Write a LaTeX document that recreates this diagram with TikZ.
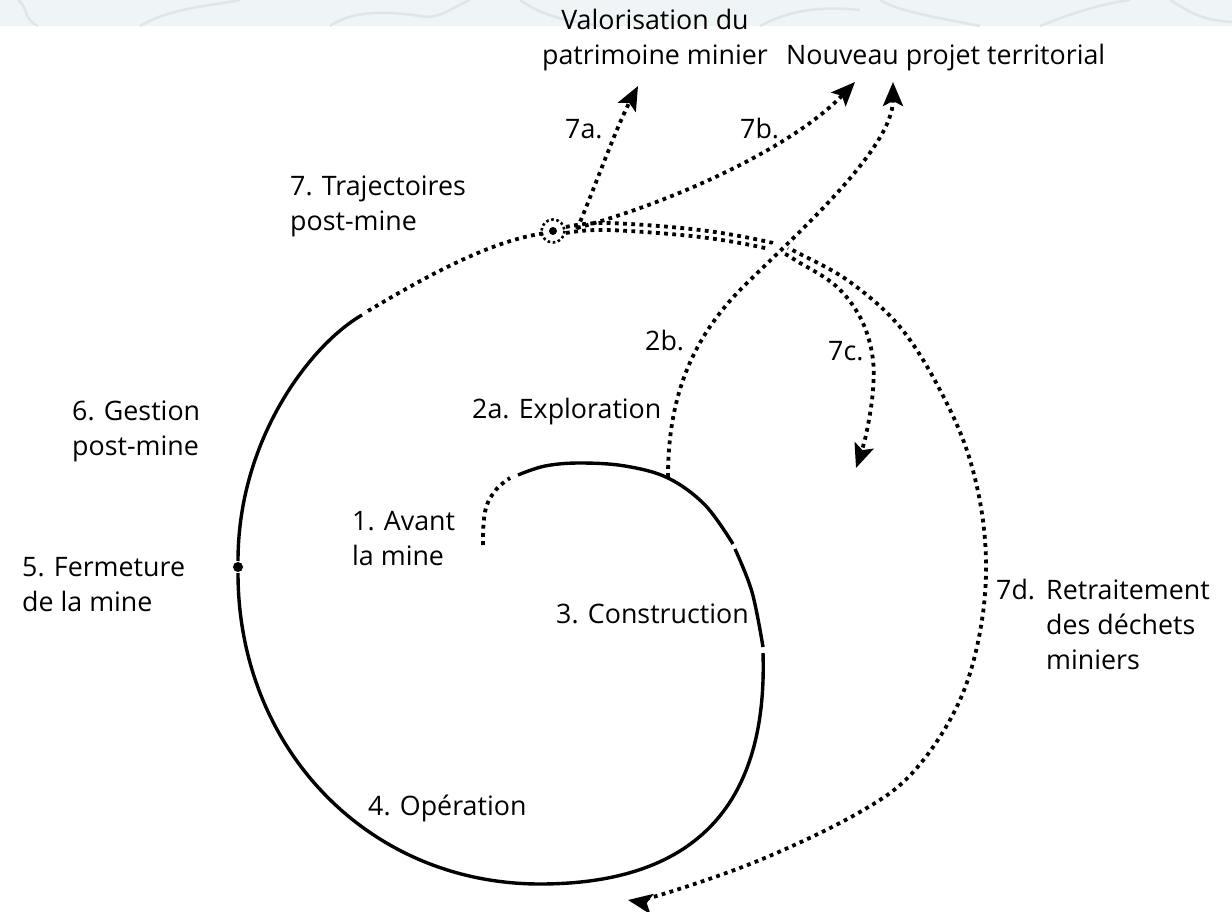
\documentclass[tikz,border=0pt]{standalone}
\usepackage{fontspec}
\setmainfont{Open Sans}
\usetikzlibrary{arrows.meta, positioning, calc}
\definecolor{BandBg}{HTML}{EFF4F6}
\definecolor{BandLine}{HTML}{DDE7EB}

\begin{document}
\begin{tikzpicture}[
  x=1pt, y=-1pt,
  phase/.style={line width=3.4pt},
  future/.style={line width=3.8pt, dash pattern=on 3.8pt off 4.4pt},
  arr/.style={future, -{Stealth[length=24pt, width=20pt, inset=5pt]}},
  lbl/.style={font=\fontsize{26.8}{35}\selectfont, inner sep=0pt, align=left,
              anchor=base west},
  hub/.style={circle, fill=black, inner sep=0pt, minimum size=8pt},
]
\useasboundingbox (0,0) rectangle (1232,912);

% faint band at the top
\fill[BandBg] (0,0) rectangle (1232,26);
\begin{scope}[BandLine, line width=2.5pt]
  \draw (18,0) .. controls (30,10) and (22,18) .. (38,26);
  \draw (140,26) .. controls (170,8) and (210,6) .. (240,0);
  \draw (330,26) .. controls (350,12) and (380,10) .. (420,16) .. controls (440,20) and (450,8) .. (470,0);
  \draw (520,0) .. controls (540,14) and (560,20) .. (600,26);
  \draw (760,26) .. controls (790,10) and (820,6) .. (860,10);
  \draw (880,0) .. controls (900,12) and (940,18) .. (980,26);
  \draw (1040,26) .. controls (1070,14) and (1100,4) .. (1130,0);
  \draw (1170,0) .. controls (1190,12) and (1200,20) .. (1232,22);
\end{scope}

% spiral
\draw[future] plot[smooth, tension=0.7] coordinates
  {(483,545) (485,512) (495,491) (510,478)};
\draw[phase] plot[smooth, tension=0.6] coordinates
  {(518,475) (545,466) (580,463) (625,466) (668,478) (705,505) (733,544)};
\draw[phase] plot[smooth, tension=0.6] coordinates
  {(735,549) (752,592) (763,647)};
\draw[phase] (763,653) .. controls (768,810) and (690,884) .. (540,884)
  .. controls (368,884) and (238,748) .. (238,573);
\node[hub, minimum size=10pt] (close) at (238,567) {};
\draw[phase] (238,561) .. controls (238,440) and (310,345) .. (362,315);
\draw[future] (368,311) .. controls (420,280) and (490,240) .. (546,233);

% post-mine hub
\node[hub] (hub) at (553,231) {};
\draw[line width=2.6pt, dash pattern=on 2.6pt off 2.6pt] (hub) circle (11.5);
\coordinate (start2b) at (668,477);
\coordinate (bend2b) at (743,287);

% trajectories
\draw[arr] plot[smooth, tension=0.6] coordinates
  {(566,233) (607,230) (700,237) (773,250) (800,263) (836,286) (860,317)
   (872,353) (873,390) (866,435) (856,468)};
\draw[arr] plot[smooth, tension=0.6] coordinates
  {(566,227) (607,223) (700,230) (773,243) (800,254) (850,282) (900,327)
   (940,390) (970,460) (985,540) (982,620) (960,700) (915,770) (860,812)
   (760,860) (660,895) (628,900)};
\draw[white, line width=14pt] (758,270) -- (796,229);
\draw[arr] (start2b) .. controls (668,400) and (690,340) .. (bend2b)
  .. controls (790,240) and (893,150) .. (893,82);
\draw[arr] (577,229) .. controls (592,195) and (615,130) .. (638,86);
\draw[arr] (577,228) .. controls (680,200) and (795,145) .. (855,82);

% labels
\node[lbl, align=center, anchor=base] (valo) at (655,65)
  {Valorisation du\\patrimoine minier};
\node[lbl] (nouveau) at (786,65) {Nouveau projet territorial};
\node[lbl] (l7a) at (565,139) {7a.};
\node[lbl] (l7b) at (740,139) {7b.};
\node[lbl] (l7) at (290,231) {7. Trajectoires\\post-mine};
\node[lbl] (l6) at (72,455) {6. Gestion\\post-mine};
\node[lbl] (l5) at (22,611) {5. Fermeture\\de la mine};
\node[lbl] (l1) at (352,565) {1. Avant\\la mine};
\node[lbl] (l2a) at (472,418) {2a. Exploration};
\node[lbl] (l2b) at (645,350) {2b.};
\node[lbl] (l7c) at (828,360) {7c.};
\node[lbl] (l3) at (556,623) {3. Construction};
\node[lbl] (l4) at (368,815) {4. Opération};
\node[lbl] (l7d) at (996,599) {7d.};
\node[lbl] (l7dtext) at (1046,669) {Retraitement\\des déchets\\miniers};

\end{tikzpicture}
\end{document}
